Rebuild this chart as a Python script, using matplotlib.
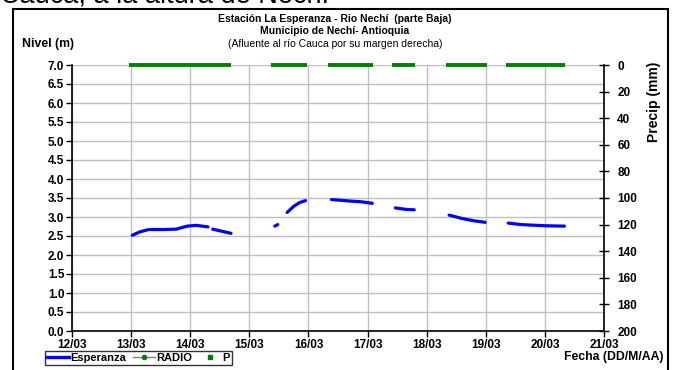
import numpy as np
import matplotlib.pyplot as plt

plt.rcParams['font.family'] = ['Liberation Sans', 'DejaVu Sans']

# Nivel (m), Esperanza -- segments separated by gaps in the record (day of March)
niv_dias = [13.02, 13.15, 13.30, np.nan, 13.34, 13.55, 13.76, 13.95, 14.10, 14.30, np.nan,
            14.38, 14.55, 14.69, np.nan,
            15.43, 15.48, np.nan,
            15.64, 15.75, 15.85, 15.95, np.nan,
            16.39, 16.70, 16.90, 17.08, np.nan,
            17.47, 17.65, 17.79, np.nan,
            18.38, 18.60, 18.80, 18.99, np.nan,
            19.38, 19.60, 20.00, 20.33]
niv_vals = [2.52, 2.61, 2.67, np.nan, 2.67, 2.67, 2.68, 2.76, 2.78, 2.74, np.nan,
            2.68, 2.62, 2.57, np.nan,
            2.76, 2.80, np.nan,
            3.12, 3.28, 3.38, 3.43, np.nan,
            3.46, 3.42, 3.40, 3.36, np.nan,
            3.24, 3.20, 3.19, np.nan,
            3.05, 2.96, 2.90, 2.86, np.nan,
            2.84, 2.80, 2.77, 2.76]

# Precipitacion P (mm) = 0 during these periods
p_ini = [12.97, 15.37, 16.33, 17.42, 18.33, 19.34]
p_fin = [14.69, 15.97, 17.10, 17.81, 19.02, 20.34]
p_val = [0, 0, 0, 0, 0, 0]

dias = list(range(12, 22))
dias_lbl = ['%02d/03' % d for d in dias]

W, H = 674.0, 370.0
fig = plt.figure(figsize=(6.74, 3.70), dpi=100)

# outer frame
fig.patches.append(plt.Rectangle((13 / W, -0.05), 655 / W, 1 - 9 / H + 0.05,
                                 transform=fig.transFigure, fill=False,
                                 edgecolor='black', linewidth=1.5))
# cut-off text above the chart
fig.text(0.0, 1 - 3 / H, 'Cauca, a la altura de Nechí', fontsize=19.5,
         va='baseline', ha='left')

ax = fig.add_axes([72 / W, 1 - 331 / H, 532 / W, 266 / H])
ax.plot(niv_dias, niv_vals, color='#0000ff', linewidth=2.3, solid_capstyle='round',
        label='Esperanza')
ax.set_xlim(12, 21)
ax.set_ylim(0, 7)
ax.set_yticks(np.arange(0, 7.01, 0.5))
ax.set_yticklabels(['%.1f' % v for v in np.arange(0, 7.01, 0.5)])
ax.set_xticks(dias)
ax.set_xticklabels(dias_lbl)
ax.grid(True, color='#c0c0c0', linewidth=1)
ax.set_axisbelow(True)
ax.spines['top'].set_visible(False)
ax.spines['right'].set_visible(False)
for s in ['left', 'bottom']:
    ax.spines[s].set_linewidth(1.2)
ax.tick_params(axis='both', labelsize=8.5, length=4, width=1, pad=1.5)
for lbl in ax.get_xticklabels() + ax.get_yticklabels():
    lbl.set_fontweight('bold')

ax2 = ax.twinx()
for a, b, v in zip(p_ini, p_fin, p_val):
    ax2.plot([a, b], [v, v], color='#008000', linewidth=2.8, solid_capstyle='butt',
             clip_on=False)
ax2.set_ylim(200, 0)
ax2.set_yticks(range(0, 201, 20))
ax2.spines['top'].set_visible(False)
ax2.spines['left'].set_visible(False)
ax2.spines['bottom'].set_visible(False)
ax2.spines['right'].set_linewidth(1.2)
ax2.tick_params(axis='y', direction='inout', labelsize=8.5, length=7, width=1, pad=6)
for lbl in ax2.get_yticklabels():
    lbl.set_fontweight('bold')
fig.text(654 / W, 1 - 62 / H, 'Precip (mm)', rotation=90, fontsize=10,
         fontweight='bold', va='top', ha='center')

# titles
fig.text(0.497, 1 - 19 / H, 'Estación La Esperanza - Rio Nechí  (parte Baja)',
         fontsize=7.5, fontweight='bold', ha='center', va='center')
fig.text(0.497, 1 - 31 / H, 'Municipio de Nechí- Antioquia',
         fontsize=7.5, fontweight='bold', ha='center', va='center')
fig.text(0.497, 1 - 44 / H, '(Afluente al río Cauca por su margen derecha)',
         fontsize=7.5, ha='center', va='center')
fig.text(22 / W, 1 - 44 / H, 'Nivel (m)', fontsize=8.8, fontweight='bold',
         ha='left', va='center')
fig.text(664 / W, 1 - 357 / H, 'Fecha (DD/M/AA)', fontsize=8.8,
         fontweight='bold', ha='right', va='center')

# legend
h1, = ax.plot([], [], color='#0000ff', linewidth=2.4)
h2, = ax.plot([], [], color='#808080', linewidth=1, marker='o', markersize=3,
              markerfacecolor='#008000', markeredgecolor='#008000')
h3, = ax.plot([], [], linestyle='none', marker='s', markersize=2.5, color='#008000')
leg = fig.legend([h1, h2, h3], ['Esperanza', 'RADIO', 'P'], ncol=3,
                 loc='center left', bbox_to_anchor=(45 / W, 1 - 358 / H),
                 fontsize=8, frameon=True, fancybox=False, edgecolor='black',
                 handlelength=2.0, handletextpad=0.1, columnspacing=0.6,
                 borderpad=0.2, borderaxespad=0)
leg.get_frame().set_linewidth(1)
for t in leg.get_texts():
    t.set_fontweight('bold')

fig.savefig('out.png', dpi=100)
